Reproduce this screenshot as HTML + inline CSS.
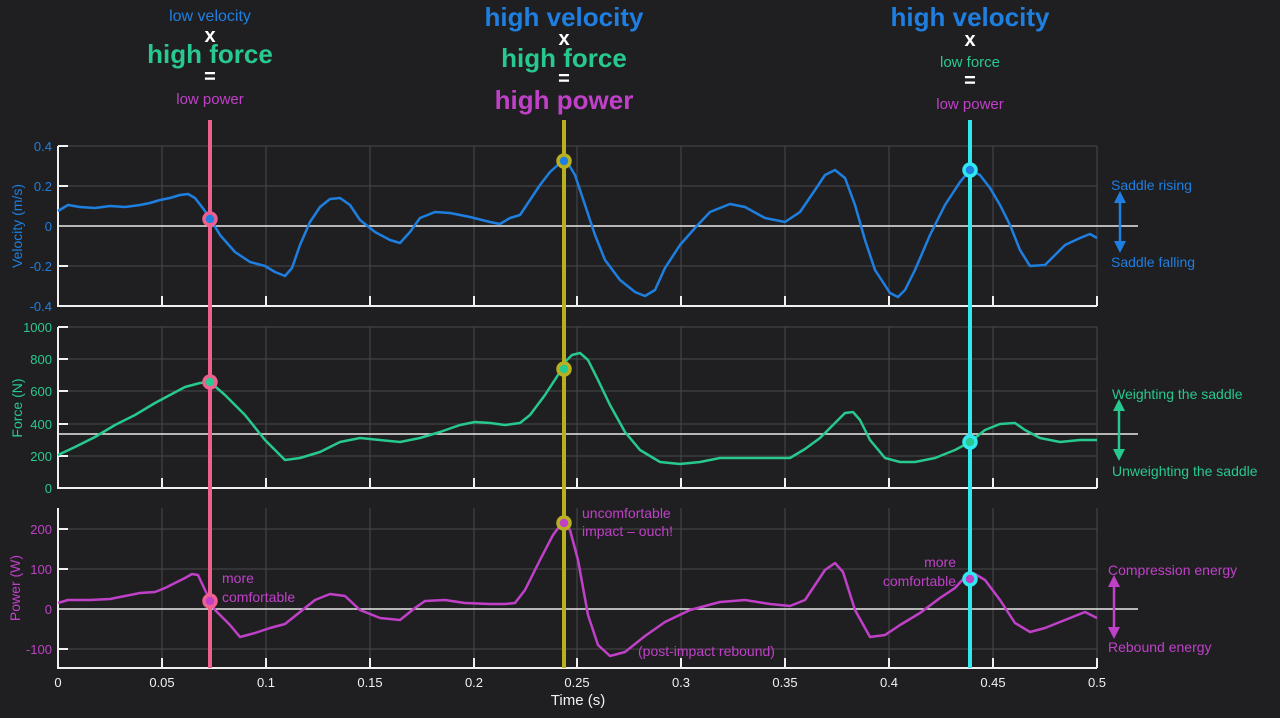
<!DOCTYPE html>
<html><head><meta charset="utf-8"><style>
body{margin:0;background:#1f1f22;}
svg{display:block;font-family:"Liberation Sans",Arial,sans-serif;}
</style></head><body>
<svg width="1280" height="718" viewBox="0 0 1280 718" xmlns="http://www.w3.org/2000/svg">
<rect width="1280" height="718" fill="#1f1f22"/>
<defs>
<marker id="ab" markerUnits="userSpaceOnUse" markerWidth="12" markerHeight="12" refX="3" refY="6" orient="auto-start-reverse"><path d="M0,0L12,6L0,12z" fill="#1e7fe0"/></marker>
<marker id="ag" markerUnits="userSpaceOnUse" markerWidth="12" markerHeight="12" refX="3" refY="6" orient="auto-start-reverse"><path d="M0,0L12,6L0,12z" fill="#27c98e"/></marker>
<marker id="am" markerUnits="userSpaceOnUse" markerWidth="12" markerHeight="12" refX="3" refY="6" orient="auto-start-reverse"><path d="M0,0L12,6L0,12z" fill="#c040c8"/></marker>
</defs>
<g stroke="#48484c" stroke-width="1">
<g id="vg">
<line x1="162" y1="146" x2="162" y2="306"/><line x1="266" y1="146" x2="266" y2="306"/><line x1="370" y1="146" x2="370" y2="306"/><line x1="474" y1="146" x2="474" y2="306"/><line x1="577" y1="146" x2="577" y2="306"/><line x1="681" y1="146" x2="681" y2="306"/><line x1="785" y1="146" x2="785" y2="306"/><line x1="889" y1="146" x2="889" y2="306"/><line x1="993" y1="146" x2="993" y2="306"/><line x1="1097" y1="146" x2="1097" y2="306"/>
</g>
<use href="#vg" transform="translate(0,181)"/>
<use href="#vg" transform="translate(0,362)"/>
<line x1="58" y1="146" x2="1097" y2="146"/><line x1="58" y1="186" x2="1097" y2="186"/><line x1="58" y1="266" x2="1097" y2="266"/>
<line x1="58" y1="327" x2="1097" y2="327"/><line x1="58" y1="359" x2="1097" y2="359"/><line x1="58" y1="391" x2="1097" y2="391"/><line x1="58" y1="424" x2="1097" y2="424"/><line x1="58" y1="456" x2="1097" y2="456"/>
<line x1="58" y1="529" x2="1097" y2="529"/><line x1="58" y1="569" x2="1097" y2="569"/><line x1="58" y1="649" x2="1097" y2="649"/>
</g>
<g stroke="#e8e8e8" stroke-width="1.5">
<line x1="58" y1="226" x2="1138" y2="226"/>
<line x1="58" y1="434" x2="1138" y2="434"/>
<line x1="58" y1="609" x2="1138" y2="609"/>
</g>
<g stroke="#f0f0f0" stroke-width="2" fill="none">
<path d="M58,146V306H1097"/><path d="M58,327V488H1097"/><path d="M58,508V668H1097"/>
<path d="M58,146h10M58,186h10M58,266h10M58,327h10M58,359h10M58,391h10M58,424h10M58,456h10M58,529h10M58,569h10M58,649h10"/>
<path d="M162,306v-10M266,306v-10M370,306v-10M474,306v-10M577,306v-10M681,306v-10M785,306v-10M889,306v-10M993,306v-10M1097,306v-10"/>
<path d="M162,488v-10M266,488v-10M370,488v-10M474,488v-10M577,488v-10M681,488v-10M785,488v-10M889,488v-10M993,488v-10M1097,488v-10"/>
<path d="M162,668v-10M266,668v-10M370,668v-10M474,668v-10M577,668v-10M681,668v-10M785,668v-10M889,668v-10M993,668v-10M1097,668v-10"/>
</g>
<g font-size="13" text-anchor="end" fill="#1e7fe0">
<text x="52" y="151">0.4</text><text x="52" y="191">0.2</text><text x="52" y="231">0</text><text x="52" y="271">-0.2</text><text x="52" y="311">-0.4</text>
</g>
<g font-size="13" text-anchor="end" fill="#27c98e">
<text x="52" y="332">1000</text><text x="52" y="364">800</text><text x="52" y="396">600</text><text x="52" y="429">400</text><text x="52" y="461">200</text><text x="52" y="493">0</text>
</g>
<g font-size="13" text-anchor="end" fill="#c040c8">
<text x="52" y="534">200</text><text x="52" y="574">100</text><text x="52" y="614">0</text><text x="52" y="654">-100</text>
</g>
<g font-size="13" text-anchor="middle" fill="#f0f0f0">
<text x="58" y="687">0</text><text x="162" y="687">0.05</text><text x="266" y="687">0.1</text><text x="370" y="687">0.15</text><text x="474" y="687">0.2</text><text x="577" y="687">0.25</text><text x="681" y="687">0.3</text><text x="785" y="687">0.35</text><text x="889" y="687">0.4</text><text x="993" y="687">0.45</text><text x="1097" y="687">0.5</text>
<text x="578" y="705" font-size="15">Time (s)</text>
</g>
<text transform="translate(22,226) rotate(-90)" text-anchor="middle" font-size="14" fill="#1e7fe0">Velocity (m/s)</text>
<text transform="translate(22,408) rotate(-90)" text-anchor="middle" font-size="14" fill="#27c98e">Force (N)</text>
<text transform="translate(20,588) rotate(-90)" text-anchor="middle" font-size="14" fill="#c040c8">Power (W)</text>
<g fill="none" stroke-width="2.5" stroke-linejoin="round">
<polyline stroke="#1e7fe0" points="58,211 68,205 80,207 95,208 110,206 125,207 140,205 150,203 160,200 170,198 180,195 188,194 195,198 202,207 210,218 220,235 235,252 250,262 265,266 275,272 285,276 292,268 300,245 310,222 320,207 330,199 340,198 350,205 360,220 375,232 390,240 400,243 410,232 420,218 435,212 450,213 470,217 490,222 500,224 510,218 520,215 530,200 540,185 550,172 560,163 566,160 575,175 585,205 595,235 605,260 620,280 635,292 645,296 655,290 665,268 680,245 695,228 710,212 730,204 745,207 765,218 785,222 800,212 815,190 825,175 835,170 845,178 855,205 865,240 875,270 890,293 898,297 905,290 915,270 930,235 945,205 960,182 970,170 980,175 990,188 1000,205 1010,225 1020,250 1030,266 1045,265 1055,255 1065,245 1080,238 1090,234 1097,238"/>
<polyline stroke="#27c98e" points="58,455 75,447 95,437 115,425 135,415 155,403 170,395 185,387 200,383 210,382 225,395 245,415 265,440 285,460 300,458 320,452 340,442 360,438 380,440 400,442 420,438 440,432 460,425 475,422 490,423 505,425 520,423 530,415 545,395 558,375 565,362 572,355 580,353 588,360 598,380 610,405 625,432 640,450 660,462 680,464 700,462 720,458 745,458 770,458 790,458 805,449 820,438 835,423 845,413 853,412 860,420 870,440 885,458 900,462 915,462 935,458 955,450 970,442 985,430 1000,424 1015,423 1025,430 1040,438 1060,442 1080,440 1097,440"/>
<polyline stroke="#c040c8" points="58,603 68,600 90,600 110,599 125,596 140,593 155,592 165,588 175,583 185,578 192,574 198,575 205,590 215,610 230,625 240,637 255,633 270,628 285,624 300,612 315,600 330,594 345,596 360,610 380,618 400,620 415,608 425,601 445,600 465,603 490,604 505,604 515,603 525,590 540,560 553,535 562,523 570,530 578,560 588,615 598,645 610,656 625,652 645,636 665,622 690,610 720,602 745,600 770,604 790,606 805,600 815,585 825,570 835,563 843,572 855,610 870,637 885,635 900,625 920,613 940,598 955,588 965,577 975,574 985,580 1000,600 1015,623 1030,632 1045,628 1060,622 1075,616 1085,612 1097,618"/>
</g>
<line x1="210" y1="120" x2="210" y2="668" stroke="#f0608e" stroke-width="4"/>
<line x1="564" y1="120" x2="564" y2="668" stroke="#b8b020" stroke-width="4"/>
<line x1="970" y1="120" x2="970" y2="668" stroke="#30e8f0" stroke-width="4"/>
<g stroke-width="3.5">
<circle cx="210" cy="219" r="6" fill="#1e7fe0" stroke="#f0608e"/>
<circle cx="210" cy="382" r="6" fill="#27c98e" stroke="#f0608e"/>
<circle cx="210" cy="601" r="6" fill="#c040c8" stroke="#f0608e"/>
<circle cx="564" cy="161" r="6" fill="#1e7fe0" stroke="#b8b020"/>
<circle cx="564" cy="369" r="6" fill="#27c98e" stroke="#b8b020"/>
<circle cx="564" cy="523" r="6" fill="#c040c8" stroke="#b8b020"/>
<circle cx="970" cy="170" r="6" fill="#1e7fe0" stroke="#30e8f0"/>
<circle cx="970" cy="442" r="6" fill="#27c98e" stroke="#30e8f0"/>
<circle cx="970" cy="579" r="6" fill="#c040c8" stroke="#30e8f0"/>
</g>
<g text-anchor="middle">
<text x="210" y="21" font-size="16" fill="#1e7fe0">low velocity</text>
<text x="210" y="42" font-size="20" font-weight="bold" fill="#fff">x</text>
<text x="210" y="63" font-size="26" font-weight="bold" fill="#27c98e">high force</text>
<text x="210" y="83" font-size="20" font-weight="bold" fill="#fff">=</text>
<text x="210" y="104" font-size="15" fill="#c040c8">low power</text>
<text x="564" y="26" font-size="26" font-weight="bold" fill="#1e7fe0">high velocity</text>
<text x="564" y="45" font-size="20" font-weight="bold" fill="#fff">x</text>
<text x="564" y="67" font-size="26" font-weight="bold" fill="#27c98e">high force</text>
<text x="564" y="85" font-size="20" font-weight="bold" fill="#fff">=</text>
<text x="564" y="109" font-size="26" font-weight="bold" fill="#c040c8">high power</text>
<text x="970" y="26" font-size="26" font-weight="bold" fill="#1e7fe0">high velocity</text>
<text x="970" y="46" font-size="20" font-weight="bold" fill="#fff">x</text>
<text x="970" y="67" font-size="15" fill="#27c98e">low force</text>
<text x="970" y="87" font-size="20" font-weight="bold" fill="#fff">=</text>
<text x="970" y="109" font-size="15" fill="#c040c8">low power</text>
</g>
<g font-size="14" fill="#c040c8">
<text x="222" y="583">more</text><text x="222" y="602">comfortable</text>
<text x="582" y="518">uncomfortable</text><text x="582" y="536">impact – ouch!</text>
<text x="638" y="656">(post-impact rebound)</text>
<text x="956" y="567" text-anchor="end">more</text><text x="956" y="586" text-anchor="end">comfortable</text>
</g>
<g font-size="14">
<text x="1111" y="190" fill="#1e7fe0">Saddle rising</text>
<text x="1111" y="267" fill="#1e7fe0">Saddle falling</text>
<text x="1112" y="399" fill="#27c98e">Weighting the saddle</text>
<text x="1112" y="476" fill="#27c98e">Unweighting the saddle</text>
<text x="1108" y="575" fill="#c040c8">Compression energy</text>
<text x="1108" y="652" fill="#c040c8">Rebound energy</text>
</g>
<line x1="1120" y1="200" x2="1120" y2="244" stroke="#1e7fe0" stroke-width="2.5" marker-start="url(#ab)" marker-end="url(#ab)"/>
<line x1="1119" y1="408" x2="1119" y2="452" stroke="#27c98e" stroke-width="2.5" marker-start="url(#ag)" marker-end="url(#ag)"/>
<line x1="1114" y1="584" x2="1114" y2="630" stroke="#c040c8" stroke-width="2.5" marker-start="url(#am)" marker-end="url(#am)"/>
</svg>
</body></html>
